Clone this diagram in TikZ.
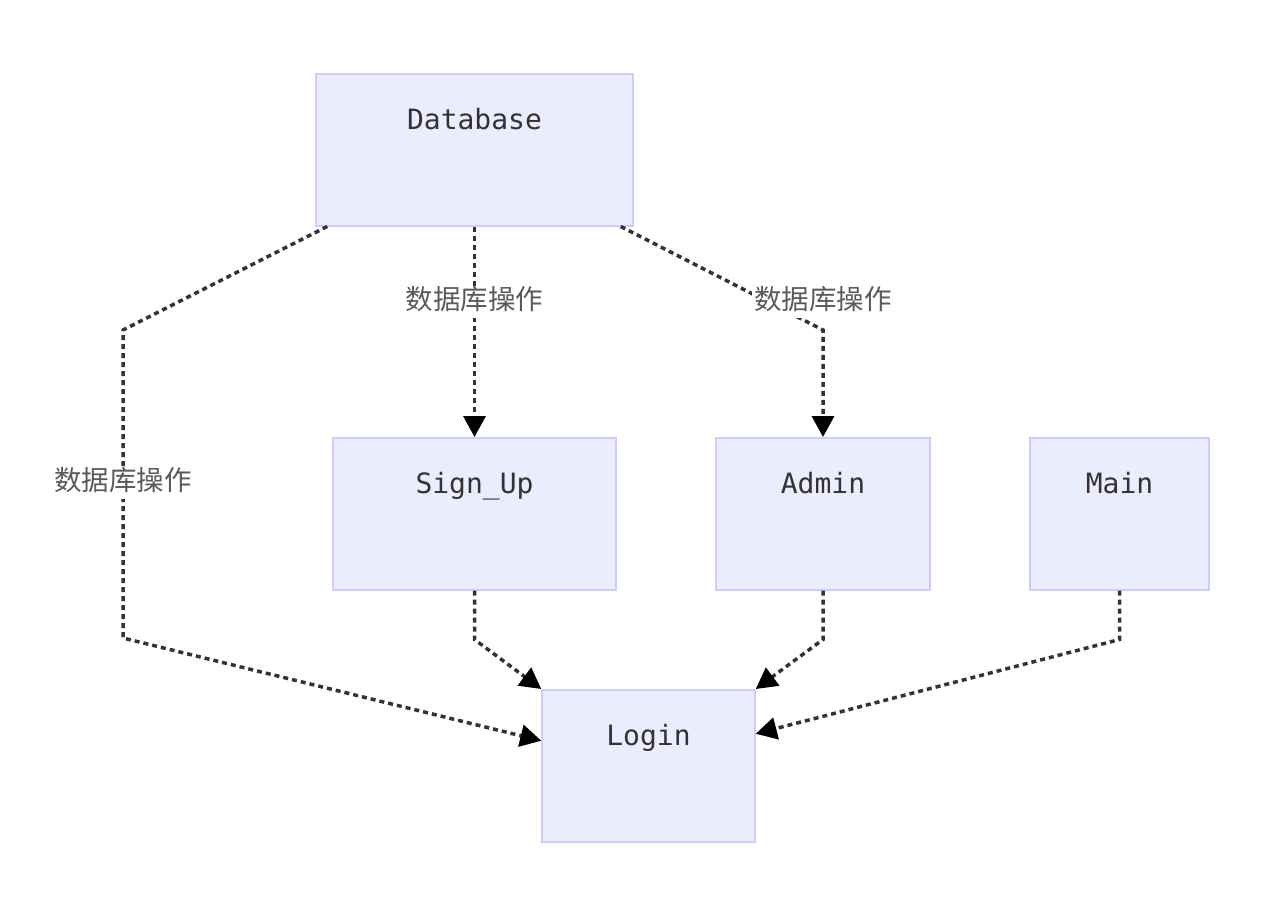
\documentclass[tikz,border=0pt]{standalone}
\usepackage{fontspec}
\setmonofont{DejaVu Sans Mono}
\newfontfamily\cjk{Noto Sans CJK SC}
\usetikzlibrary{arrows.meta}
\definecolor{boxfill}{HTML}{ECECFF}
\definecolor{boxline}{HTML}{CCCCFF}
\definecolor{ink}{HTML}{333333}
\definecolor{lbl}{HTML}{5A5A5A}
\begin{document}
\begin{tikzpicture}[x=1pt, y=-1pt,
  box/.style={draw=boxline, fill=boxfill, line width=1.5pt, inner sep=0pt, anchor=north,
    text height=56pt, text depth=96pt, text=ink, font=\ttfamily\fontsize{28}{28}\selectfont},
  op/.style={fill=white, inner sep=2pt, text height=21pt, text depth=7pt, text=lbl,
    font=\cjk\fontsize{27.5}{27.5}\selectfont},
  flow/.style={draw=ink, line width=3.5pt, dash pattern=on 5pt off 4pt,
    -{Triangle[length=21pt, width=22pt, color=black]}}]
			\fill[white] (0,0) rectangle (1288,921);
			\useasboundingbox (0,0) rectangle (1288,921);
			
			\node[box, minimum width=317pt] (db) at (474.5,73) {Database};
			\node[box, minimum width=283pt] (signup) at (474.5,437) {Sign\_Up};
			\node[box, minimum width=214pt] (admin) at (823,437) {Admin};
			\node[box, minimum width=179pt] (main) at (1119.5,437) {Main};
			\node[box, minimum width=213pt] (login) at (648.5,689) {Login};
			
			\draw[flow] ([xshift=12pt]db.south west) -- (123,330) -- (123,638) -- ([yshift=25pt]login.west);
			\draw[flow] (db.south) -- (signup.north);
			\draw[flow] ([xshift=-13pt]db.south east) -- (823,330) -- (admin.north);
			
			\coordinate (inR) at ([yshift=32pt]login.east);
			\foreach \from/\to in {signup/login.north west,admin/login.north east,main/inR}
			\draw[flow] (\from.south) -- ++(0,49) -- (\to);
			
			\node[op] (opL) at (123,483) {数据库操作};
			\node[op] (opM) at (474.5,302) {数据库操作};
			\node[op] (opR) at (823,302) {数据库操作};
\end{tikzpicture}
\end{document}
